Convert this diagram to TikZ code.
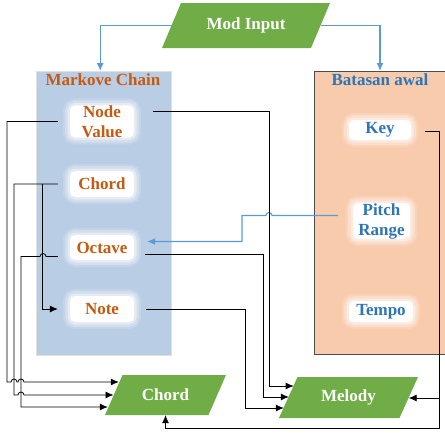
\documentclass[tikz,border=0pt]{standalone}
\usepackage{fontspec}
\setmainfont{Liberation Serif}
\usetikzlibrary{arrows.meta}
\definecolor{gr}{HTML}{70AD47}
\definecolor{bfill}{HTML}{B9CDE5}
\definecolor{ofill}{HTML}{F8CBAD}
\definecolor{otext}{HTML}{C55A11}
\definecolor{btext}{HTML}{2E75B6}
\definecolor{barrow}{HTML}{5B9BD5}
\begin{document}
\begin{tikzpicture}[x=1pt,y=-1pt,
  font=\fontsize{17}{20}\selectfont\bfseries,
  glow/.style={fill=white, rounded corners=5pt, inner sep=0pt, align=center,
    preaction={draw=white, draw opacity=0.15, line width=14pt},
    preaction={draw=white, draw opacity=0.25, line width=10pt},
    preaction={draw=white, draw opacity=0.4, line width=5pt}},
  para/.style={inner sep=0pt, text=white,
    path picture={\fill[gr] ([xshift=#1]path picture bounding box.north west)
      -- (path picture bounding box.north east)
      -- ([xshift=-#1]path picture bounding box.south east)
      -- (path picture bounding box.south west) -- cycle;}},
  ln/.style={draw=black, line width=0.8pt},
  arr/.style={ln, -{Latex[length=8pt,width=7pt]}},
  barr/.style={draw=barrow, line width=1.1pt, -{Latex[length=8pt,width=7pt]}}]
\useasboundingbox (0,0) rectangle (445,434);

% containers
\node[draw=gray!25, fill=bfill, minimum width=135pt, minimum height=284pt, anchor=north west, inner sep=0pt] (mcbox) at (36,71) {};
\node[draw=black!70, line width=0.8pt, fill=ofill, minimum width=140pt, minimum height=283pt, anchor=north west, inner sep=0pt] (babox) at (314,71) {};
\node[text=otext] (mct) at (103,80) {Markove Chain};
\node[text=btext] (bat) at (380,80) {Batasan awal};

% parallelograms
\node[para=19pt, minimum width=168pt, minimum height=45pt] (mod) at (246,25.5) {Mod Input};
\node[para=17.5pt, minimum width=121pt, minimum height=40pt] (cho) at (165.5,395) {Chord};
\node[para=18.5pt, minimum width=139pt, minimum height=41pt] (mel) at (348.5,397.5) {Melody};

% markov items
\node[glow, text=otext, minimum width=64pt, minimum height=31pt] (nv) at (102,121.5) {Node\\Value};
\node[glow, text=otext, minimum width=64pt, minimum height=26pt] (ch) at (102,184) {Chord};
\node[glow, text=otext, minimum width=64pt, minimum height=25pt] (oc) at (102,247.5) {Octave};
\node[glow, text=otext, minimum width=64pt, minimum height=26pt] (nt) at (102,309) {Note};

% batasan items
\node[glow, text=btext, minimum width=62pt, minimum height=20pt] (key) at (380,130) {Key};
\node[glow, text=btext, minimum width=57pt, minimum height=36pt] (pr) at (381.5,221) {Pitch\\Range};
\node[glow, text=btext, minimum width=64pt, minimum height=21pt] (tp) at (381,311.5) {Tempo};

% mod input arrows
\draw[barr] ([xshift=10.5pt]mod.west) -| ([xshift=-3.5pt]mcbox.north);
\draw[barr] ([xshift=-9.5pt]mod.east) -| (babox.north -| bat.north);

% pitch range -> octave
\draw[barr] ([shift={(-15,-5.5)}]pr.west) -- (272,215.5) arc[start angle=0,end angle=180,radius=3pt]
  -- (242,215.5) -- (242,241.5) -- ([shift={(13,-6)}]oc.east);

% right side to melody
\draw[arr] ([shift={(19,-10.5)}]nv.east) -- (269,111) -- (269,386) -- ([shift={(14.9,-11.5)}]mel.west);
\draw[arr] ([shift={(11,6.5)}]oc.east) -- (263,254) -- (263,397) -- ([shift={(10,-0.5)}]mel.west);
\draw[arr] ([xshift=12pt]nt.east) -- (245,309) -- (245,408) -- ([shift={(5,10.5)}]mel.west);

% key -> melody, key -> chord
\draw[arr] ([shift={(14,1)}]key.east) -- (439,131) -- (439,398) -- ([shift={(-9.5,0.5)}]mel.east);
\draw[arr] (439,398) -- (439,428) -| (cho.south);

% left side to chord
\draw[arr] ([xshift=-12pt]nv.west) -- (7,121.5) -- (7,382)
  -- (11,382) arc[start angle=180,end angle=0,radius=3pt]
  -- (18,382) arc[start angle=180,end angle=0,radius=3pt]
  -- ([shift={(14,-13)}]cho.west);
\draw[arr] ([xshift=-12pt]ch.west) -- (14,184) -- (14,395)
  -- (18,395) arc[start angle=180,end angle=0,radius=3pt]
  -- ([shift={(8.7,0)}]cho.west);
\draw[arr] ([shift={(-12,9)}]oc.west) -- (46,256.5) arc[start angle=0,end angle=180,radius=3pt]
  -- (21,256.5) -- (21,407) -- ([shift={(3,12)}]cho.west);

% chord -> note
\draw[arr] ([xshift=-27pt]ch.west) |- ([xshift=-12pt]nt.west);
\end{tikzpicture}
\end{document}
